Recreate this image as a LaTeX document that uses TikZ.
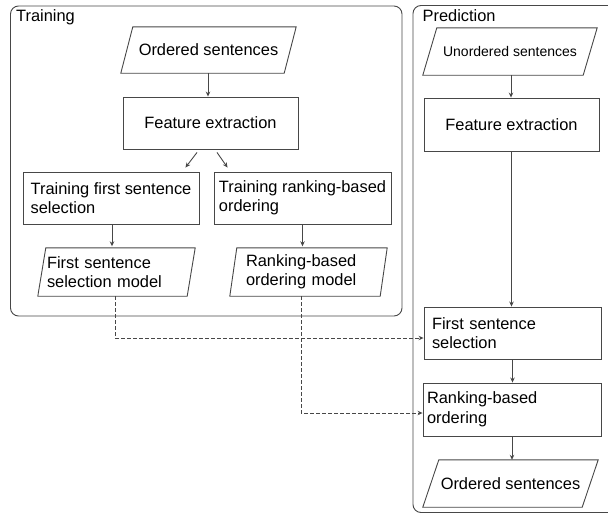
\documentclass[tikz,border=0pt]{standalone}
\usepackage{fontspec}
\setmainfont{Liberation Sans}
\usetikzlibrary{arrows.meta}
\newcommand\parashape[2]{\draw[linecol] ([xshift=#2]#1.north west) -- (#1.north east) -- ([xshift=-#2]#1.south east) -- (#1.south west) -- cycle;}
\begin{document}
\begin{tikzpicture}[x=1pt,y=-1pt,
  linecol/.style={draw=black!72, line width=0.9pt},
  arr/.style={linecol, -{Stealth[length=5pt,width=4.5pt]}},
  darr/.style={arr, dash pattern=on 3.5pt off 2.5pt},
  bigfont/.style={font=\fontsize{16.4}{19.5}\selectfont},
  box/.style={linecol, rectangle, inner sep=0pt, bigfont, align=left},
  para/.style={rectangle, inner sep=0pt, bigfont, align=left},
  lbl/.style={inner sep=0pt, anchor=base west, bigfont}
]
\useasboundingbox (0,0) rectangle (608,512);

% frames
\draw[linecol, rounded corners=8pt] (10.5,6) rectangle (402,316);
\begin{scope}
\clip (0,0) rectangle (608,512);
\draw[linecol, rounded corners=8pt] (413,5.5) rectangle (625,512.5);
\end{scope}
\node[lbl] (ltrain) at (16,21.5) {Training};
\node[lbl] (lpred) at (422.5,21.5) {Prediction};

% training
\node[para, minimum width=175pt, minimum height=46pt] (tos) at (208.5,50) {Ordered sentences};
\parashape{tos}{12pt}
\node[box, minimum width=175pt, minimum height=52pt] (tfe) at (210.5,123) {Feature extraction};
\node[box, minimum width=176pt, minimum height=52pt] (tfs) at (111,198) {Training first sentence\\selection};
\node[box, minimum width=177pt, minimum height=52pt] (trb) at (302.5,198) {Training ranking-based\\ordering};
\node[para, minimum width=157pt, minimum height=48pt, inner xsep=9pt, text width=139pt] (fsm) at (116.5,272) {First sentence\\selection model};
\parashape{fsm}{8pt}
\node[para, minimum width=157pt, minimum height=48pt, inner xsep=16pt, text width=125pt] (rbm) at (308.5,272) {Ranking-based\\ordering model};
\parashape{rbm}{7pt}

% prediction
\node[para, minimum width=174pt, minimum height=47pt, font=\fontsize{14}{17}\selectfont] (uos) at (510,51.5) {Unordered sentences};
\parashape{uos}{14pt}
\node[box, minimum width=175pt, minimum height=53pt] (pfe) at (511.5,124.5) {Feature extraction};
\node[box, minimum width=177pt, minimum height=52pt, inner xsep=8pt, text width=161pt] (pfs) at (512.5,333) {First sentence\\selection};
\node[box, minimum width=178pt, minimum height=53pt, inner xsep=4pt, text width=170pt] (prb) at (512,409.5) {Ranking-based\\ordering};
\node[para, minimum width=175pt, minimum height=47pt] (pos) at (510.5,483.5) {Ordered sentences};
\parashape{pos}{16pt}

% connectors training
\draw[arr] ([xshift=-0.5pt]tos.south) -- ([xshift=-0.5pt]tos.south |- tfe.north);
\draw[arr] ([xshift=-13.5pt,yshift=-3pt]tfe.south) -- ([xshift=-14pt,yshift=4pt]tfs.north east);
\draw[arr] ([xshift=6.5pt,yshift=-3pt]tfe.south) -- ([xshift=14pt,yshift=4pt]trb.north west);
\draw[arr] ([xshift=1pt]tfs.south) -- ([xshift=1pt,yshift=1.5pt]tfs.south |- fsm.north);
\draw[arr] (trb.south) -- ([yshift=1.5pt]trb.south |- rbm.north);

% connectors prediction
\draw[arr] ([xshift=1pt]uos.south) -- ([xshift=1pt]uos.south |- pfe.north);
\draw[arr] (pfe.south) -- (pfe.south |- pfs.north);
\draw[arr] (pfs.south) -- (pfs.south |- prb.north);
\draw[arr] (prb.south) -- (prb.south |- pos.north);

% dashed
\draw[darr] ([xshift=-1.5pt]fsm.south) |- ([yshift=-5pt]pfs.west);
\draw[darr] ([xshift=-7.5pt]rbm.south) |- ([yshift=-3.5pt]prb.west);
\end{tikzpicture}
\end{document}
